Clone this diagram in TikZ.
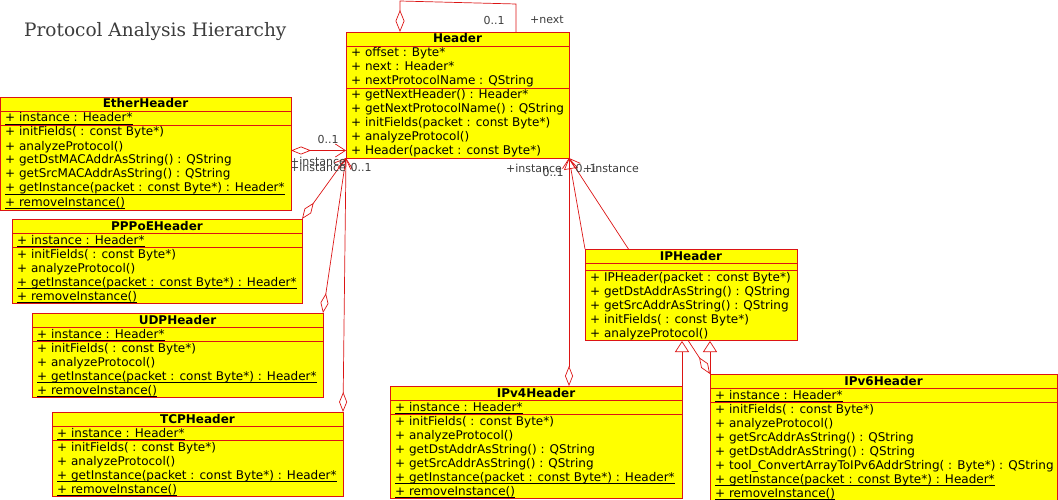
\documentclass[tikz,border=0pt]{standalone}
\usepackage{fontspec}
\setmainfont{DejaVu Sans}
\newfontfamily\titlefont{DejaVu Serif}
\usetikzlibrary{arrows.meta,calc}
\definecolor{umlred}{RGB}{220,20,20}
\definecolor{umlyel}{RGB}{255,255,0}
\definecolor{lblgray}{RGB}{60,60,60}
\newlength\ulw
\newcommand\ulx[1]{\settowidth\ulw{#1}\rlap{\rule[-3pt]{\ulw}{0.8pt}}#1}
\newcounter{mc}
\newcommand\mrow[3]{\stepcounter{mc}\node[member] (m\arabic{mc}) at (#1+5,#2+11) {#3};}
\newcommand\sepl[3]{\draw[sepline] (#1,#3) -- (#1+#2,#3);}
\tikzset{
 classbox/.style={draw=umlred, fill=umlyel, line width=0.8pt, inner sep=0pt, outer sep=0pt, anchor=north west},
 sepline/.style={draw=umlred, line width=0.8pt},
 member/.style={anchor=base west, inner sep=0pt, font=\fontsize{12}{14}\selectfont},
 ctitle/.style={anchor=base, inner sep=0pt, font=\fontsize{12}{14}\selectfont\bfseries},
 conn/.style={draw=umlred, line width=0.7pt},
 agg/.style={conn, {Diamond[open,length=20pt,width=8pt]}-{Straight Barb[length=10pt,width=13pt]}},
 gen/.style={conn, -{Triangle[open,length=11pt,width=14pt]}},
 lbl/.style={inner sep=0pt, text=lblgray, font=\fontsize{11}{13}\selectfont},
}
\begin{document}
\begin{tikzpicture}[x=1pt,y=-1pt]
\useasboundingbox (0,0) rectangle (1058,500);
\node[anchor=base west, inner sep=0pt, text=lblgray, font=\titlefont\fontsize{18.5}{22}\selectfont] (title) at (24,36.5) {Protocol Analysis Hierarchy};

% ---------- connectors ----------
\coordinate (hdrSW) at (346,158);
\coordinate (hdrSE) at (569,158);
\coordinate (ethP) at (291,150.5);
\coordinate (pppNE) at (302,219);
\coordinate (udpNE) at (323,313);
\coordinate (tcpNE) at (343,412);
\coordinate (v4D) at (569,386);
\coordinate (v4NE) at (682,386);
\coordinate (v6NW) at (710,374);
\coordinate (iphNW) at (585,249);
\coordinate (iphS4) at (682,341);
\coordinate (iphS6) at (710,341);
\coordinate (loopA) at (400,32);
\coordinate (loopB) at (516,32);

\draw[conn, {Diamond[open,length=22pt,width=9pt]}-] (loopA) -- (400,1) -- (516,4) -- (loopB);
\draw[agg] (ethP) -- (346,150.5);
\draw[agg] (pppNE) -- (hdrSW);
\draw[agg] (udpNE) -- (hdrSW);
\draw[agg] (tcpNE) -- (hdrSW);
\draw[agg] (v4D) -- (hdrSE);
\draw[agg] (v6NW) -- (hdrSE);
\draw[gen] (iphNW) -- (hdrSE);
\draw[gen] (v4NE) -- (iphS4);
\draw[gen] (v6NW) -- (iphS6);

% ---------- labels ----------
\node[lbl] (l1) at (494,20) {0..1};
\node[lbl] (l2) at (547,20) {+next};
\node[lbl] (l3) at (328,139) {0..1};
\node[lbl] (l4) at (318,161) {+instance};
\node[lbl] (l5) at (318,167) {+instance};
\node[lbl] (l6) at (361,167) {0..1};
\node[lbl] (l7) at (534,168) {+instance};
\node[lbl] (l8) at (553,172) {0..1};
\node[lbl] (l9) at (586,168) {0..1};
\node[lbl] (l10) at (611,168) {+instance};

% ---------- Header ----------
\node[classbox, minimum width=223pt, minimum height=126pt] (hdr) at (346,32) {};
\node[ctitle] (hdrT) at (457.5,43) {Header};
\sepl{346}{223}{46}\sepl{346}{223}{88}
\mrow{346}{46}{+ offset : Byte*}
\mrow{346}{60}{+ next : Header*}
\mrow{346}{74}{+ nextProtocolName : QString}
\mrow{346}{88}{+ getNextHeader() : Header*}
\mrow{346}{102}{+ getNextProtocolName() : QString}
\mrow{346}{116}{+ initFields(packet : const Byte*)}
\mrow{346}{130}{+ analyzeProtocol()}
\mrow{346}{144}{+ Header(packet : const Byte*)}

% ---------- EtherHeader ----------
\node[classbox, minimum width=291pt, minimum height=113pt] (eth) at (0,97) {};
\node[ctitle] (ethT) at (145.5,108) {EtherHeader};
\sepl{0}{291}{111}\sepl{0}{291}{125}
\mrow{0}{111}{\ulx{+ instance : Header*}}
\mrow{0}{125}{+ initFields( : const Byte*)}
\mrow{0}{139}{+ analyzeProtocol()}
\mrow{0}{153}{+ getDstMACAddrAsString() : QString}
\mrow{0}{167}{+ getSrcMACAddrAsString() : QString}
\mrow{0}{181}{\ulx{+ getInstance(packet : const Byte*) : Header*}}
\mrow{0}{195}{\ulx{+ removeInstance()}}

% ---------- PPPoEHeader ----------
\node[classbox, minimum width=290pt, minimum height=84pt] (ppp) at (12,219) {};
\node[ctitle] (pppT) at (157,230) {PPPoEHeader};
\sepl{12}{290}{233}\sepl{12}{290}{247}
\mrow{12}{233}{\ulx{+ instance : Header*}}
\mrow{12}{247}{+ initFields( : const Byte*)}
\mrow{12}{261}{+ analyzeProtocol()}
\mrow{12}{275}{\ulx{+ getInstance(packet : const Byte*) : Header*}}
\mrow{12}{289}{\ulx{+ removeInstance()}}

% ---------- UDPHeader ----------
\node[classbox, minimum width=291pt, minimum height=84pt] (udp) at (32,313) {};
\node[ctitle] (udpT) at (177.5,324) {UDPHeader};
\sepl{32}{291}{327}\sepl{32}{291}{341}
\mrow{32}{327}{\ulx{+ instance : Header*}}
\mrow{32}{341}{+ initFields( : const Byte*)}
\mrow{32}{355}{+ analyzeProtocol()}
\mrow{32}{369}{\ulx{+ getInstance(packet : const Byte*) : Header*}}
\mrow{32}{383}{\ulx{+ removeInstance()}}

% ---------- TCPHeader ----------
\node[classbox, minimum width=291pt, minimum height=84pt] (tcp) at (52,412) {};
\node[ctitle] (tcpT) at (197.5,423) {TCPHeader};
\sepl{52}{291}{426}\sepl{52}{291}{440}
\mrow{52}{426}{\ulx{+ instance : Header*}}
\mrow{52}{440}{+ initFields( : const Byte*)}
\mrow{52}{454}{+ analyzeProtocol()}
\mrow{52}{468}{\ulx{+ getInstance(packet : const Byte*) : Header*}}
\mrow{52}{482}{\ulx{+ removeInstance()}}

% ---------- IPHeader ----------
\node[classbox, minimum width=212pt, minimum height=91pt] (iph) at (585,249) {};
\node[ctitle] (iphT) at (691,260) {IPHeader};
\sepl{585}{212}{263}\sepl{585}{212}{270}
\mrow{585}{270}{+ IPHeader(packet : const Byte*)}
\mrow{585}{284}{+ getDstAddrAsString() : QString}
\mrow{585}{298}{+ getSrcAddrAsString() : QString}
\mrow{585}{312}{+ initFields( : const Byte*)}
\mrow{585}{326}{+ analyzeProtocol()}

% ---------- IPv4Header ----------
\node[classbox, minimum width=292pt, minimum height=112pt] (ipv4) at (390,386) {};
\node[ctitle] (ipv4T) at (536,397) {IPv4Header};
\sepl{390}{292}{400}\sepl{390}{292}{414}
\mrow{390}{400}{\ulx{+ instance : Header*}}
\mrow{390}{414}{+ initFields( : const Byte*)}
\mrow{390}{428}{+ analyzeProtocol()}
\mrow{390}{442}{+ getDstAddrAsString() : QString}
\mrow{390}{456}{+ getSrcAddrAsString() : QString}
\mrow{390}{470}{\ulx{+ getInstance(packet : const Byte*) : Header*}}
\mrow{390}{484}{\ulx{+ removeInstance()}}

% ---------- IPv6Header ----------
\node[classbox, minimum width=347pt, minimum height=126pt] (ipv6) at (710,374) {};
\node[ctitle] (ipv6T) at (883.5,385) {IPv6Header};
\sepl{710}{347}{388}\sepl{710}{347}{402}
\mrow{710}{388}{\ulx{+ instance : Header*}}
\mrow{710}{402}{+ initFields( : const Byte*)}
\mrow{710}{416}{+ analyzeProtocol()}
\mrow{710}{430}{+ getSrcAddrAsString() : QString}
\mrow{710}{444}{+ getDstAddrAsString() : QString}
\mrow{710}{458}{+ tool\_ConvertArrayToIPv6AddrString( : Byte*) : QString}
\mrow{710}{472}{\ulx{+ getInstance(packet : const Byte*) : Header*}}
\mrow{710}{486}{\ulx{+ removeInstance()}}
\end{tikzpicture}
\end{document}
